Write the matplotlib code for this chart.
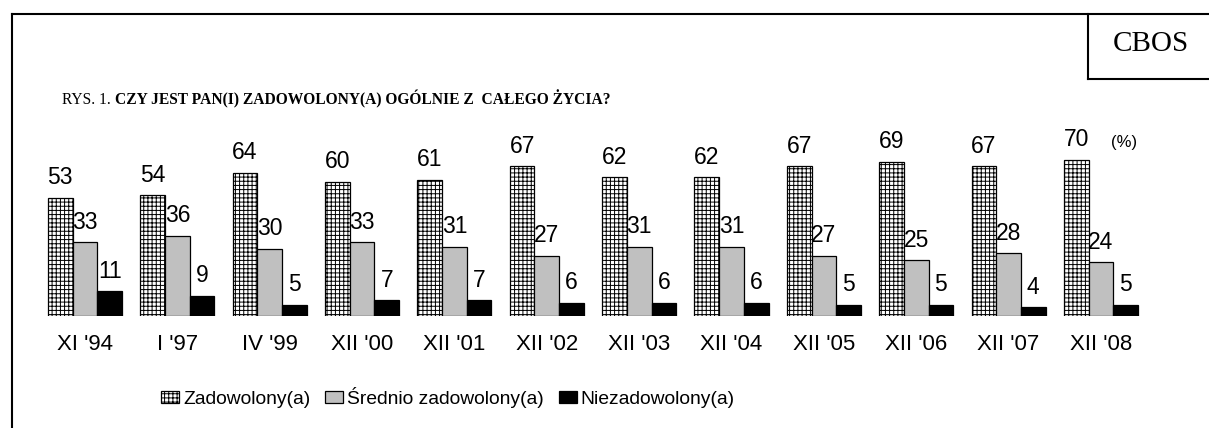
import matplotlib
matplotlib.use("Agg")
import matplotlib.pyplot as plt
from matplotlib.patches import Patch
from matplotlib.lines import Line2D
import numpy as np

categories = ["XI '94", "I '97", "IV '99", "XII '00", "XII '01", "XII '02",
              "XII '03", "XII '04", "XII '05", "XII '06", "XII '07", "XII '08"]
zadowolony = [53, 54, 64, 60, 61, 67, 62, 62, 67, 69, 67, 70]
srednio = [33, 36, 30, 33, 31, 27, 31, 31, 27, 25, 28, 24]
niezadowolony = [11, 9, 5, 7, 7, 6, 6, 6, 5, 5, 4, 5]
series_names = ["Zadowolony(a)", "Średnio zadowolony(a)", "Niezadowolony(a)"]

W, H = 1209, 428
DPI = 100
plt.rcParams['font.family'] = ['Liberation Sans', 'DejaVu Sans']
plt.rcParams['hatch.linewidth'] = 0.7
plt.rcParams['hatch.color'] = 'black'

fig = plt.figure(figsize=(W / DPI, H / DPI), dpi=DPI)
fig.patch.set_facecolor('white')

def fx(x):
    return x / W

def fy(y):
    return 1 - y / H

# axes in pixel geometry
spacing = 92.36
c0 = 85.0
ax_l, ax_r = 20, 1190
base_y, top_y = 316, 120
pxu = 2.235
ax = fig.add_axes([fx(ax_l), fy(base_y), fx(ax_r - ax_l), (base_y - top_y) / H])
ax.set_xlim((ax_l - c0) / spacing, (ax_r - c0) / spacing)
ax.set_ylim(0, (base_y - top_y) / pxu)
for s in ax.spines.values():
    s.set_visible(False)
ax.set_yticks([])

x = np.arange(len(categories))
bw = 24.7 / spacing
b1 = ax.bar(x - bw, zadowolony, bw, facecolor='white', edgecolor='black',
            hatch='++++', linewidth=0.9, label=series_names[0])
b2 = ax.bar(x, srednio, bw, facecolor='#C0C0C0', edgecolor='black',
            linewidth=0.9, label=series_names[1])
b3 = ax.bar(x + bw, niezadowolony, bw, facecolor='black', edgecolor='black',
            linewidth=0.9, label=series_names[2])

for xs, vals in ((x - bw, zadowolony), (x, srednio), (x + bw, niezadowolony)):
    for xi, v in zip(xs, vals):
        ax.annotate(str(v), (xi, v), xytext=(0, 9.7), textcoords='offset points',
                    ha='center', va='baseline', fontsize=16.5, annotation_clip=False)

ax.set_xticks(x)
ax.set_xticklabels(categories, fontsize=16)
ax.tick_params(axis='x', length=0, pad=13)

# legend
handles = [Patch(facecolor='white', edgecolor='black', hatch='++++', linewidth=0.9),
           Patch(facecolor='#C0C0C0', edgecolor='black', linewidth=0.9),
           Patch(facecolor='black', edgecolor='black', linewidth=0.9)]
fig.legend(handles, series_names, loc='center', bbox_to_anchor=(fx(448), fy(397)),
           ncol=3, frameon=False, fontsize=13.9, handlelength=0.95, handleheight=0.6,
           handletextpad=0.2, columnspacing=0.75, borderpad=0, borderaxespad=0)

# title (regular prefix + bold rest)
tsize = 11.2
t1 = fig.text(fx(62), fy(104), "RYS. 1. ", fontsize=tsize, family='Liberation Serif',
              ha='left', va='baseline')
fig.canvas.draw()
bb = t1.get_window_extent(renderer=fig.canvas.get_renderer())
fig.text(bb.x1 / W, fy(104), "CZY JEST PAN(I) ZADOWOLONY(A) OGÓLNIE Z  CAŁEGO ŻYCIA?",
         fontsize=tsize, family='Liberation Serif', fontweight='bold',
         ha='left', va='baseline')

# CBOS
fig.text(fx(1151), fy(44), "CBOS", fontsize=21, family='Liberation Serif',
         ha='center', va='center')
fig.text(fx(1124), fy(143), "(%)", fontsize=12, ha='center', va='center')

# frame lines
lw = 1.5
fig.add_artist(Line2D([fx(12), fx(W)], [fy(14), fy(14)], color='black', lw=lw))
fig.add_artist(Line2D([fx(12), fx(12)], [fy(14), fy(H + 2)], color='black', lw=lw))
fig.add_artist(Line2D([fx(1088), fx(1088)], [fy(14), fy(79)], color='black', lw=lw))
fig.add_artist(Line2D([fx(1088), fx(W)], [fy(79), fy(79)], color='black', lw=lw))

fig.savefig("out.png", dpi=DPI, facecolor='white')
